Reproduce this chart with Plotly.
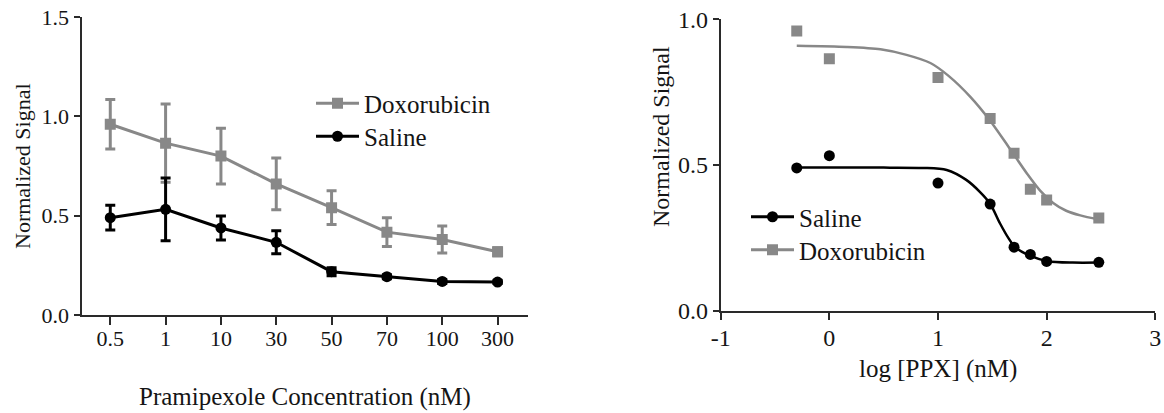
import plotly.graph_objects as go

# ---------------- data ----------------
conc_labels = ["0.5", "1", "10", "30", "50", "70", "100", "300"]
conc_index = [0, 1, 2, 3, 4, 5, 6, 7]
log_ppx = [-0.30, 0.0, 1.0, 1.48, 1.70, 1.85, 2.0, 2.48]

dox_mean = [0.96, 0.865, 0.80, 0.66, 0.54, 0.417, 0.38, 0.318]
dox_err = [0.125, 0.197, 0.14, 0.13, 0.085, 0.072, 0.068, 0.02]
saline_mean = [0.49, 0.532, 0.438, 0.366, 0.218, 0.193, 0.169, 0.166]
saline_err = [0.062, 0.158, 0.06, 0.058, 0.02, 0.01, 0.01, 0.008]

# fitted curves
dox_fit_x = [-0.30, 0.16, 0.47, 0.71, 0.93, 1.10, 1.30, 1.48, 1.65, 1.82, 1.94, 2.06, 2.18, 2.31, 2.48]
dox_fit_y = [0.909, 0.905, 0.897, 0.878, 0.850, 0.805, 0.733, 0.652, 0.562, 0.470, 0.412, 0.370, 0.343, 0.327, 0.313]
sal_fit_x = [-0.30, 0.50, 0.86, 1.08, 1.26, 1.385, 1.48, 1.57, 1.65, 1.71, 1.85, 2.01, 2.24, 2.48]
sal_fit_y = [0.491, 0.491, 0.490, 0.483, 0.449, 0.408, 0.367, 0.300, 0.248, 0.218, 0.188, 0.170, 0.165, 0.165]

left_yticks = [0.0, 0.5, 1.0, 1.5]
right_yticks = [0.0, 0.5, 1.0]
right_xticks = [-1, 0, 1, 2, 3]
right_xlabels = ["-1", "0", "1", "2", "3"]

GRAY = "#888888"
BLACK = "#000000"
AX = "#2a2a2a"
TXT = "#151515"
FONT = "Liberation Serif"
W, H = 1164, 413

def px_x(p):
    return p / W

def px_y(p):
    return (H - p) / H

fig = go.Figure()

# ---------------- left panel ----------------
fig.add_trace(go.Scatter(
    x=conc_index, y=dox_mean, name="Doxorubicin", mode="lines+markers",
    line=dict(color=GRAY, width=3),
    marker=dict(symbol="square", size=11, color=GRAY),
    error_y=dict(type="data", array=dox_err, color=GRAY, thickness=3, width=5),
    xaxis="x", yaxis="y", legend="legend"))
fig.add_trace(go.Scatter(
    x=conc_index, y=saline_mean, name="Saline", mode="lines+markers",
    line=dict(color=BLACK, width=3),
    marker=dict(symbol="circle", size=11, color=BLACK),
    error_y=dict(type="data", array=saline_err, color=BLACK, thickness=3, width=5),
    xaxis="x", yaxis="y", legend="legend2"))

# ---------------- right panel ----------------
fig.add_trace(go.Scatter(x=dox_fit_x, y=dox_fit_y, mode="lines", line=dict(color=GRAY, width=2.5, shape="spline", smoothing=0.8),
                         xaxis="x2", yaxis="y2", showlegend=False, hoverinfo="skip"))
fig.add_trace(go.Scatter(x=sal_fit_x, y=sal_fit_y, mode="lines", line=dict(color=BLACK, width=2.5, shape="spline", smoothing=0.8),
                         xaxis="x2", yaxis="y2", showlegend=False, hoverinfo="skip"))
fig.add_trace(go.Scatter(x=log_ppx, y=dox_mean, mode="markers", marker=dict(symbol="square", size=11, color=GRAY),
                         xaxis="x2", yaxis="y2", showlegend=False))
fig.add_trace(go.Scatter(x=log_ppx, y=saline_mean, mode="markers", marker=dict(symbol="circle", size=11, color=BLACK),
                         xaxis="x2", yaxis="y2", showlegend=False))
# legend entries for right panel
fig.add_trace(go.Scatter(x=[None], y=[None], name="Saline", mode="lines+markers",
                         line=dict(color=BLACK, width=3), marker=dict(symbol="circle", size=11, color=BLACK),
                         xaxis="x2", yaxis="y2", legend="legend3"))
fig.add_trace(go.Scatter(x=[None], y=[None], name="Doxorubicin", mode="lines+markers",
                         line=dict(color=GRAY, width=3), marker=dict(symbol="square", size=11, color=GRAY),
                         xaxis="x2", yaxis="y2", legend="legend4"))

axis_common = dict(showline=True, linecolor=AX, linewidth=2, ticks="outside", tickcolor=AX, tickwidth=2,
                   showgrid=False, zeroline=False, fixedrange=True, automargin=False)

def leg(xp, yp):
    return dict(x=px_x(xp), y=px_y(yp), xanchor="left", yanchor="top", bgcolor="rgba(0,0,0,0)", borderwidth=0,
                font=dict(size=25, family=FONT, color=TXT), itemwidth=43)

fig.update_layout(
    template="none",
    width=W, height=H,
    margin=dict(l=0, r=0, t=0, b=0, pad=0),
    paper_bgcolor="white", plot_bgcolor="white",
    font=dict(family=FONT, color=TXT),
    xaxis=dict(domain=[px_x(81.5), px_x(528)], range=[-0.52, 7.55], tickvals=conc_index, ticktext=conc_labels,
               ticklen=8, ticklabelstandoff=-5, tickfont=dict(size=22, family=FONT, color=TXT), anchor="y", **axis_common),
    yaxis=dict(domain=[px_y(315), px_y(17)], range=[0, 1.5], tickvals=left_yticks, tickformat=".1f",
               ticklen=6, tickfont=dict(size=22, family=FONT, color=TXT), anchor="x", **axis_common),
    xaxis2=dict(domain=[px_x(720.7), px_x(1155.3)], range=[-1, 3], tickvals=right_xticks, ticktext=right_xlabels,
                ticklen=7, ticklabelstandoff=-3, tickfont=dict(size=24, family=FONT, color=TXT), anchor="y2", **axis_common),
    yaxis2=dict(domain=[px_y(310.7), px_y(19.3)], range=[0, 1], tickvals=right_yticks, tickformat=".1f",
                ticklen=6, tickfont=dict(size=24, family=FONT, color=TXT), anchor="x2", **axis_common),
    legend=leg(311, 80.5),
    legend2=leg(311, 113.5),
    legend3=leg(746, 194),
    legend4=leg(746, 227),
    annotations=[
        dict(text="Normalized Signal", x=px_x(22), y=px_y(166), xref="paper", yref="paper", textangle=-90,
             showarrow=False, font=dict(size=22, family=FONT, color=TXT), xanchor="center", yanchor="middle"),
        dict(text="Pramipexole Concentration (nM)", x=px_x(305), y=px_y(397), xref="paper", yref="paper",
             showarrow=False, font=dict(size=25, family=FONT, color=TXT), xanchor="center", yanchor="middle"),
        dict(text="Normalized Signal", x=px_x(661), y=px_y(137), xref="paper", yref="paper", textangle=-90,
             showarrow=False, font=dict(size=24, family=FONT, color=TXT), xanchor="center", yanchor="middle"),
        dict(text="log [PPX] (nM)", x=px_x(938), y=px_y(369), xref="paper", yref="paper",
             showarrow=False, font=dict(size=25, family=FONT, color=TXT), xanchor="center", yanchor="middle"),
    ],
)

fig.write_html("out.html")
